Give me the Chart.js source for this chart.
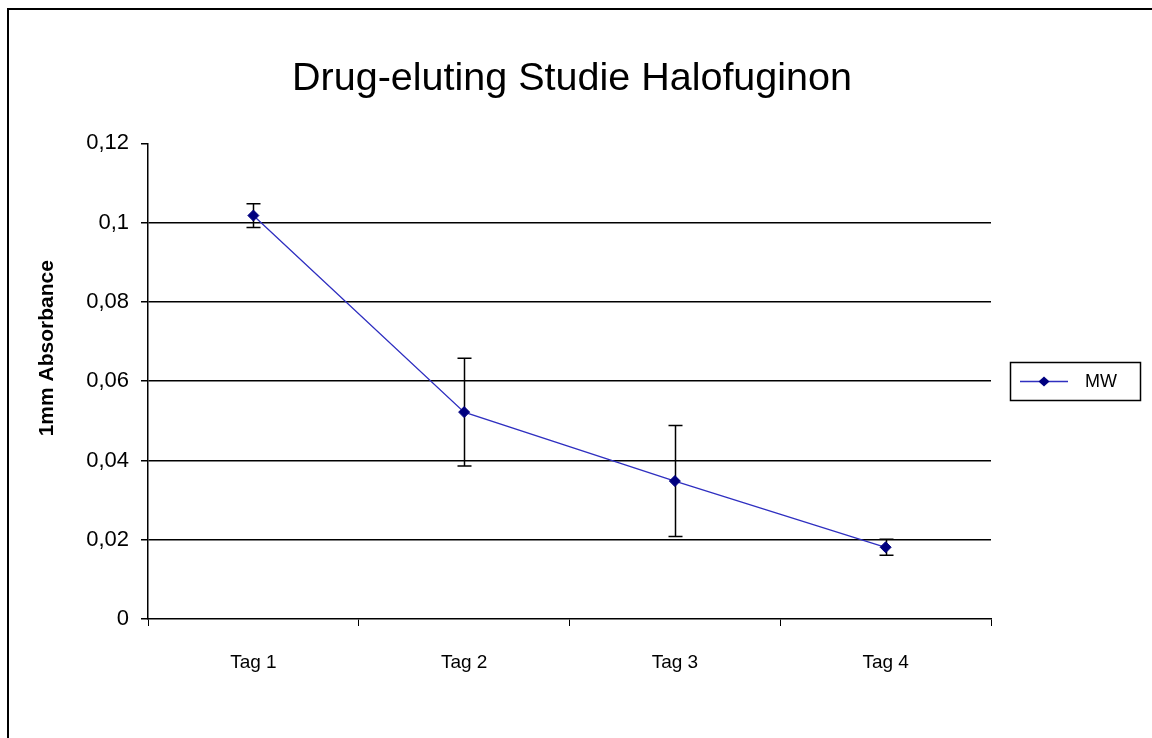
<!DOCTYPE html>
<html><head><meta charset="utf-8">
<script src="https://cdn.jsdelivr.net/npm/chart.js@4/dist/chart.umd.min.js"></script>
<style>
html,body{margin:0;padding:0;background:#fff;overflow:hidden}
#wrap{position:relative;width:1152px;height:738px}
canvas{position:absolute;left:0;top:0}
#frame{position:absolute;left:7px;top:8px;width:1160px;height:750px;border-left:2px solid #000;border-top:2px solid #000;pointer-events:none}
</style></head>
<body><div id="wrap"><canvas id="c" width="1152" height="738"></canvas><div id="frame"></div></div>
<script>
const titleText = 'Drug-eluting Studie Halofuginon';
const yAxisTitle = '1mm Absorbance';
const seriesName = 'MW';
const categories = ['Tag 1', 'Tag 2', 'Tag 3', 'Tag 4'];
const meanValues = [0.1018, 0.0522, 0.0348, 0.0181];
const errorValues = [0.0030, 0.0136, 0.0140, 0.0020];
const yTickValues = [0, 0.02, 0.04, 0.06, 0.08, 0.1, 0.12];

const LINE_COLOR = '#2f2fc0';
const MARK_COLOR = '#000080';
const FONT = '"Liberation Sans", Arial, sans-serif';

const errorBarPlugin = {
  id: 'errorBars',
  beforeDatasetsDraw(chart) {
    const ctx = chart.ctx, xs = chart.scales.x, ys = chart.scales.y;
    ctx.save();
    ctx.strokeStyle = '#000';
    ctx.lineWidth = 1.5;
    meanValues.forEach((v, i) => {
      const x = Math.round(xs.getPixelForValue(i)) + 0.5;
      const yt = ys.getPixelForValue(v + errorValues[i]);
      const yb = ys.getPixelForValue(v - errorValues[i]);
      ctx.beginPath();
      ctx.moveTo(x, yt); ctx.lineTo(x, yb);
      ctx.moveTo(x - 7, yt); ctx.lineTo(x + 7, yt);
      ctx.moveTo(x - 7, yb); ctx.lineTo(x + 7, yb);
      ctx.stroke();
    });
    ctx.restore();
  }
};

const axisTitlePlugin = {
  id: 'axisTitle',
  afterDraw(chart) {
    const ctx = chart.ctx, ca = chart.chartArea;
    ctx.save();
    ctx.translate(47, (ca.top + ca.bottom) / 2 - 33);
    ctx.rotate(-Math.PI / 2);
    ctx.fillStyle = '#000';
    ctx.font = 'bold 21px ' + FONT;
    ctx.textAlign = 'center';
    ctx.textBaseline = 'middle';
    ctx.fillText(yAxisTitle, 0, 0);
    ctx.restore();
  }
};

const legendBoxPlugin = {
  id: 'legendBox',
  afterDraw(chart) {
    const ctx = chart.ctx, ca = chart.chartArea;
    const left = ca.right + 19, w = 130, h = 38;
    const cy = (ca.top + ca.bottom) / 2;
    ctx.save();
    ctx.strokeStyle = '#000';
    ctx.lineWidth = 1.5;
    ctx.strokeRect(left + 0.5, Math.round(cy - h / 2) + 0.5, w, h);
    ctx.strokeStyle = LINE_COLOR;
    ctx.lineWidth = 1.3;
    ctx.beginPath();
    ctx.moveTo(left + 10, Math.round(cy) + 0.5);
    ctx.lineTo(left + 58, Math.round(cy) + 0.5);
    ctx.stroke();
    ctx.fillStyle = MARK_COLOR;
    const mx = left + 34, my = Math.round(cy) + 0.5;
    ctx.beginPath();
    ctx.moveTo(mx, my - 5); ctx.lineTo(mx + 5.5, my); ctx.lineTo(mx, my + 5); ctx.lineTo(mx - 5.5, my);
    ctx.closePath(); ctx.fill();
    ctx.fillStyle = '#000';
    ctx.font = '18px ' + FONT;
    ctx.textBaseline = 'middle';
    ctx.textAlign = 'left';
    ctx.fillText(seriesName, left + 75, cy + 1);
    ctx.restore();
  }
};

new Chart(document.getElementById('c'), {
  type: 'line',
  data: {
    labels: categories,
    datasets: [{
      label: seriesName,
      data: meanValues,
      borderColor: LINE_COLOR,
      borderWidth: 1.3,
      backgroundColor: MARK_COLOR,
      pointStyle: 'rectRot',
      pointRadius: 5.5,
      pointBackgroundColor: MARK_COLOR,
      pointBorderColor: MARK_COLOR,
      pointBorderWidth: 1,
      tension: 0,
      fill: false
    }]
  },
  options: {
    responsive: false,
    animation: false,
    devicePixelRatio: 1,
    layout: { padding: { top: 0, left: 0, right: 8, bottom: 0 } },
    plugins: {
      legend: { display: false },
      tooltip: { enabled: false },
      title: {
        display: true,
        text: titleText,
        color: '#000',
        font: { family: FONT, size: 39.5, weight: 'normal' },
        padding: { top: 55, bottom: 41 }
      }
    },
    scales: {
      x: {
        type: 'category',
        offset: true,
        grid: { offset: true, drawOnChartArea: false, color: '#000', tickColor: '#000', tickLength: 7, lineWidth: 1 },
        border: { display: true, color: '#000', width: 1.5 },
        ticks: { color: '#000', font: { family: FONT, size: 19 }, padding: 25, maxRotation: 0 },
        afterFit(s) { s.height = 119; }
      },
      y: {
        type: 'linear',
        position: 'left',
        min: 0,
        max: 0.12,
        afterBuildTicks(s) { s.ticks = yTickValues.map(v => ({ value: v })); },
        grid: {
          color: (c) => (c.tick && (c.tick.value >= 0.119 || c.tick.value === 0)) ? 'rgba(0,0,0,0)' : '#000',
          tickColor: '#000',
          tickLength: 7,
          lineWidth: 1.5
        },
        border: { display: true, color: '#000', width: 1.5 },
        ticks: {
          color: '#000',
          font: { family: FONT, size: 22 },
          padding: 12,
          callback: (v) => String(Math.round(v * 100) / 100).replace('.', ',')
        },
        afterFit(s) { s.width = 148; }
      },
      yRight: {
        type: 'linear',
        position: 'right',
        display: true,
        ticks: { display: false },
        grid: { display: false },
        border: { display: false },
        afterFit(s) { s.width = 153; }
      }
    }
  },
  plugins: [errorBarPlugin, axisTitlePlugin, legendBoxPlugin]
});
</script>
</body></html>
